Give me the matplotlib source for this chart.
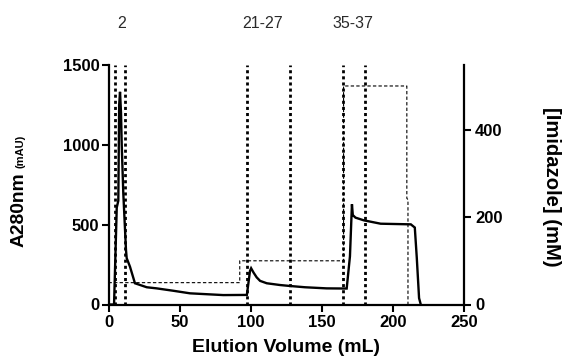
import matplotlib
matplotlib.use("Agg")
import matplotlib.pyplot as plt

plt.rcParams['font.family'] = ['Liberation Sans', 'DejaVu Sans']

# A280 trace (mL, mAU)
volume = [0, 3.9, 5.8, 6.9, 7.5, 8.1, 8.8, 9.3, 10.4, 12.3, 12.8, 15.1, 18.6,
          26.9, 33.9, 45.6, 57.3, 80.7, 97.3, 99.5, 100.3, 102.0, 104.2, 106.6,
          111.3, 120.6, 127.6, 138.2, 153.4, 167.5, 169.8, 171.2, 171.8, 173.7,
          179.6, 191.4, 212.6, 215.4, 216.8, 218.4, 219.6]
a280 = [0, 0, 607, 650, 1250, 1332, 1200, 1000, 698, 341, 290, 237, 133,
        108, 101, 86, 70, 59, 60, 210, 227, 200, 170, 148,
        133, 122, 116, 108, 101, 100, 302, 628, 560, 544,
        527, 506, 502, 482, 292, 40, 0]

# Imidazole gradient steps (mL, mM)
imid_volume = [0, 92.3, 92.3, 165.3, 165.3, 209.8, 209.8, 210.6, 210.6]
imid_conc = [50, 50, 100, 100, 500, 500, 243, 240, 0]

# Collected fraction boundaries (mL)
fraction_bounds = [4.6, 11.6, 97.7, 127.6, 165.2, 180.4]
fraction_labels = ["2", "21-27", "35-37"]
fraction_label_pos = [9.3, 108.1, 172.2]

x_ticks = [0, 50, 100, 150, 200, 250]
y_ticks = [0, 500, 1000, 1500]
y2_ticks = [0, 200, 400]

W, H = 563, 356
fig = plt.figure(figsize=(W / 100, H / 100), dpi=100)
ax = fig.add_axes([108.5 / W, 1 - 304.5 / H, (464 - 108.5) / W, (304.5 - 65) / H])
ax2 = ax.twinx()

ax.plot(volume, a280, color='black', lw=1.7, solid_joinstyle='miter', zorder=3)
ax2.plot(imid_volume, imid_conc, color='black', lw=0.8, dashes=(3, 2), zorder=2)
for xv in fraction_bounds:
    ax.axvline(xv, color='black', lw=2.0, dashes=(1.1, 1.1), zorder=2)

ax.set_xlim(0, 250)
ax.set_ylim(0, 1500)
ax2.set_ylim(0, 548)
ax.set_xticks(x_ticks)
ax.set_yticks(y_ticks)
ax2.set_yticks(y2_ticks)

for a in (ax, ax2):
    a.spines['top'].set_visible(False)
    for s in a.spines.values():
        s.set_linewidth(1.6)
ax.spines['right'].set_visible(False)
ax2.spines['left'].set_visible(False)
ax2.spines['bottom'].set_visible(False)

ax.tick_params(axis='both', length=5, width=1.5, color='black')
ax.tick_params(axis='y', pad=1.5)
ax.tick_params(axis='x', pad=2.5)
ax2.tick_params(axis='y', length=5, width=1.5, pad=3)
for lab in ax.get_xticklabels() + ax.get_yticklabels() + ax2.get_yticklabels():
    lab.set_fontsize(12)
    lab.set_fontweight('bold')

# Axis titles
fig.text(285.8 / W, 1 - 352.5 / H, "Elution Volume (mL)", fontsize=14,
         fontweight='bold', ha='center', va='baseline')
fig.text(24 / W, 1 - 247 / H, "A280nm", fontsize=13.9, fontweight='bold',
         rotation=90, rotation_mode='anchor', ha='left', va='baseline')
fig.text(24 / W, 1 - 168 / H, "(mAU)", fontsize=8, fontweight='bold', rotation=90,
         rotation_mode='anchor', ha='left', va='baseline')
fig.text(551.7 / W, 1 - 186.7 / H, "[Imidazole] (mM)", fontsize=14.6,
         fontweight='bold', rotation=270, ha='center', va='center')

# Fraction labels above the plot
for lab, xv in zip(fraction_labels, fraction_label_pos):
    px = 108.5 + xv * (464 - 108.5) / 250
    fig.text(px / W, 1 - 24 / H, lab, fontsize=11.5, color='#2a2a2a',
             ha='center', va='center')

fig.savefig("out.png", dpi=100)
